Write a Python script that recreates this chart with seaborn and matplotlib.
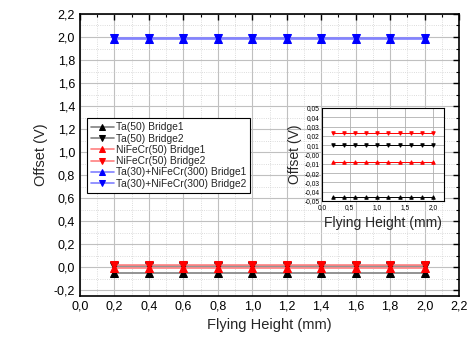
import matplotlib
matplotlib.use("Agg")
import matplotlib.pyplot as plt
import matplotlib.ticker as mticker
import seaborn as sns
import numpy as np
import pandas as pd

sns.set_theme(style="white")
plt.rcParams['font.family'] = ['Liberation Sans', 'DejaVu Sans']

heights = [0.2, 0.4, 0.6, 0.8, 1.0, 1.2, 1.4, 1.6, 1.8, 2.0]
ta_b1 = [-0.046] * 10
ta_b2 = [0.010] * 10
nifecr_b1 = [-0.008] * 10
nifecr_b2 = [0.023] * 10
ta_nifecr_b1 = [1.985] * 10
ta_nifecr_b2 = [1.990] * 10

labels = ["Ta(50) Bridge1", "Ta(50) Bridge2", "NiFeCr(50) Bridge1",
          "NiFeCr(50) Bridge2", "Ta(30)+NiFeCr(300) Bridge1", "Ta(30)+NiFeCr(300) Bridge2"]
values = [ta_b1, ta_b2, nifecr_b1, nifecr_b2, ta_nifecr_b1, ta_nifecr_b2]
markers = ['^', 'v', '^', 'v', '^', 'v']
dark = ['black', 'black', 'red', 'red', 'blue', 'blue']
light = ['#808080', '#808080', '#ff8080', '#ff8080', '#8080ff', '#8080ff']

fig = plt.figure(figsize=(4.67, 3.41), dpi=100)
ax = fig.add_axes([0.1713, 0.132, 0.8116, 0.827])

def comma(v, pos, fmt="{:.1f}"):
    return fmt.format(v).replace('.', ',')

for lab, vals, m, dc, lc in zip(labels, values, markers, dark, light):
    df = pd.DataFrame({"x": heights, "y": vals})
    sns.lineplot(data=df, x="x", y="y", ax=ax, color=lc, marker=m, markersize=6,
                 markerfacecolor=dc, markeredgecolor=dc, linewidth=1.2, label=lab)

ax.set_xlim(0, 2.2)
ax.set_ylim(-0.25, 2.2)
ax.xaxis.set_major_locator(mticker.MultipleLocator(0.2))
ax.xaxis.set_minor_locator(mticker.MultipleLocator(0.1))
ax.yaxis.set_major_locator(mticker.MultipleLocator(0.2))
ax.yaxis.set_minor_locator(mticker.MultipleLocator(0.1))
ax.xaxis.set_major_formatter(mticker.FuncFormatter(comma))
ax.yaxis.set_major_formatter(mticker.FuncFormatter(comma))
ax.grid(which='major', color='#c0c0c0', linewidth=0.8, linestyle='-')
ax.grid(which='minor', color='#d0d0d0', linewidth=0.6, linestyle=':')
ax.set_axisbelow(True)
ax.tick_params(which='both', direction='in', top=True, right=True, labelsize=9, colors='black')
ax.tick_params(which='major', length=4, width=1)
ax.tick_params(which='minor', length=2, width=0.8)
for s in ax.spines.values():
    s.set_color('black')
    s.set_linewidth(1.2)
ax.set_xlabel("Flying Height (mm)", fontsize=10.5)
ax.set_ylabel("Offset (V)", fontsize=10.5)

leg = ax.legend(loc='upper left', bbox_to_anchor=(0.018, 0.63), fontsize=7.4,
                frameon=True, fancybox=False, edgecolor='black', framealpha=1,
                borderpad=0.4, labelspacing=0.12, handlelength=2.2, handletextpad=0.2,
                borderaxespad=0, markerscale=0.8)
leg.get_frame().set_linewidth(0.8)

# inset
axi = fig.add_axes([0.6895, 0.4106, 0.261, 0.2727])
for lab, vals, m, dc, lc in list(zip(labels, values, markers, dark, light))[:4]:
    df = pd.DataFrame({"x": heights, "y": vals})
    sns.lineplot(data=df, x="x", y="y", ax=axi, color=dc, marker=m, markersize=2.5,
                 markerfacecolor=dc, markeredgecolor=dc, linewidth=0.7, legend=False)
axi.set_xlim(0, 2.2)
axi.set_ylim(-0.05, 0.05)
axi.xaxis.set_major_locator(mticker.MultipleLocator(0.5))
axi.xaxis.set_minor_locator(mticker.MultipleLocator(0.25))
axi.yaxis.set_major_locator(mticker.MultipleLocator(0.01))
axi.xaxis.set_major_formatter(mticker.FuncFormatter(comma))
axi.yaxis.set_major_formatter(mticker.FuncFormatter(lambda v, p: comma(v, p, "{:.2f}")))
axi.grid(which='major', color='#b0b0b0', linewidth=0.6)
axi.set_axisbelow(True)
axi.tick_params(which='both', direction='in', labelsize=4.8, colors='black', length=2)
axi.tick_params(axis='x', pad=2.5)
axi.tick_params(axis='y', pad=1.5)
for s in axi.spines.values():
    s.set_color('black')
    s.set_linewidth(0.8)
axi.set_xlabel("Flying Height (mm)", fontsize=10, labelpad=3)
axi.set_ylabel("Offset (V)", fontsize=10, labelpad=2)

fig.savefig("out.png", dpi=100)
